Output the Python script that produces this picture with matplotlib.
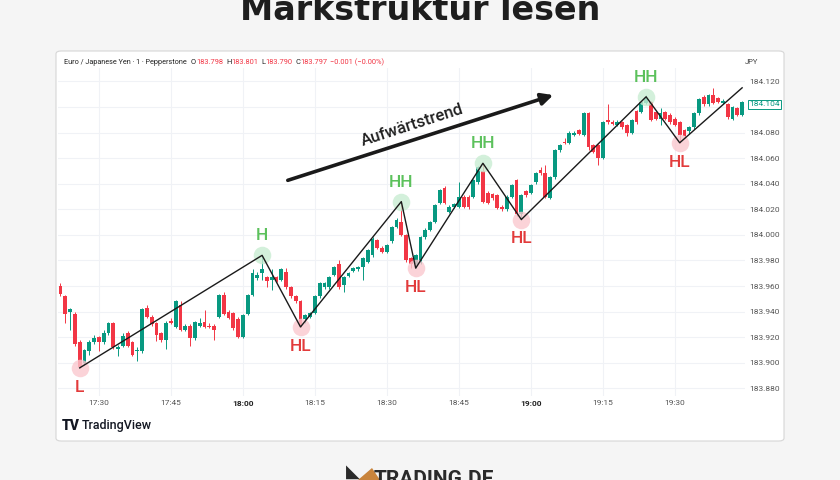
import numpy as np
import pandas as pd
import matplotlib.pyplot as plt
from matplotlib.patches import FancyBboxPatch, Polygon

plt.rcParams['font.family'] = ['Roboto', 'DejaVu Sans']

# 1-Minuten-Kerzen EUR/JPY, 17:22 - 19:44
start = '2024-01-01 17:22'
opens = [183.960, 183.952, 183.940, 183.938, 183.916, 183.900, 183.909, 183.916, 183.920, 183.916,
         183.923, 183.931, 183.911, 183.913, 183.923, 183.916, 183.909, 183.909, 183.943, 183.936,
         183.931, 183.923, 183.918, 183.933, 183.928, 183.945, 183.926, 183.929, 183.919, 183.929,
         183.932, 183.929, 183.929, 183.936, 183.953, 183.940, 183.939, 183.934, 183.920, 183.938,
         183.953, 183.966, 183.970, 183.967, 183.965, 183.967, 183.965, 183.971, 183.959, 183.952,
         183.948, 183.934, 183.936, 183.939, 183.952, 183.959, 183.959, 183.969, 183.977, 183.961,
         183.968, 183.972, 183.973, 183.975, 183.979, 183.984, 183.996, 183.990, 183.987, 183.995,
         184.006, 184.010, 184.000, 183.982, 183.977, 183.978, 183.998, 184.004, 184.010, 184.025,
         184.037, 184.018, 184.022, 184.022, 184.030, 184.030, 184.030, 184.041, 184.050, 184.033,
         184.032, 184.031, 184.022, 184.020, 184.030, 184.043, 184.016, 184.034, 184.033, 184.041,
         184.051, 184.048, 184.029, 184.045, 184.066, 184.073, 184.072, 184.078, 184.082, 184.078,
         184.095, 184.070, 184.070, 184.060, 184.090, 184.088, 184.086, 184.088, 184.086, 184.080,
         184.097, 184.096, 184.103, 184.104, 184.096, 184.091, 184.096, 184.094, 184.091, 184.088,
         184.082, 184.081, 184.084, 184.095, 184.108, 184.102, 184.109, 184.107, 184.103, 184.102,
         184.091, 184.099, 184.094]
highs = [183.962, 183.953, 183.943, 183.940, 183.918, 183.911, 183.918, 183.922, 183.921, 183.926,
         183.932, 183.932, 183.914, 183.923, 183.925, 183.917, 183.912, 183.943, 183.945, 183.937,
         183.932, 183.924, 183.933, 183.935, 183.949, 183.948, 183.930, 183.930, 183.933, 183.935,
         183.941, 183.931, 183.930, 183.954, 183.955, 183.941, 183.940, 183.936, 183.938, 183.954,
         183.973, 183.971, 183.984, 183.968, 183.973, 183.968, 183.974, 183.974, 183.960, 183.953,
         183.949, 183.938, 183.940, 183.953, 183.963, 183.963, 183.968, 183.976, 183.980, 183.968,
         183.971, 183.975, 183.976, 183.983, 183.989, 183.998, 183.997, 183.991, 183.993, 184.007,
         184.013, 184.026, 184.001, 183.983, 183.985, 183.999, 184.005, 184.011, 184.024, 184.036,
         184.038, 184.023, 184.025, 184.041, 184.031, 184.031, 184.044, 184.054, 184.056, 184.034,
         184.033, 184.032, 184.023, 184.031, 184.040, 184.044, 184.032, 184.035, 184.040, 184.049,
         184.053, 184.055, 184.046, 184.067, 184.071, 184.076, 184.081, 184.081, 184.083, 184.096,
         184.096, 184.071, 184.071, 184.089, 184.102, 184.090, 184.090, 184.089, 184.087, 184.091,
         184.098, 184.105, 184.109, 184.105, 184.097, 184.099, 184.097, 184.095, 184.092, 184.089,
         184.083, 184.085, 184.096, 184.107, 184.109, 184.110, 184.115, 184.108, 184.106, 184.103,
         184.101, 184.100, 184.105]
lows = [183.952, 183.931, 183.926, 183.913, 183.896, 183.898, 183.906, 183.915, 183.909, 183.915,
        183.922, 183.911, 183.905, 183.912, 183.912, 183.905, 183.901, 183.908, 183.935, 183.929,
        183.917, 183.916, 183.911, 183.930, 183.927, 183.925, 183.925, 183.913, 183.918, 183.928,
        183.927, 183.927, 183.918, 183.935, 183.937, 183.934, 183.926, 183.919, 183.919, 183.937,
        183.952, 183.965, 183.965, 183.959, 183.957, 183.963, 183.964, 183.958, 183.951, 183.947,
        183.928, 183.931, 183.935, 183.938, 183.951, 183.958, 183.958, 183.968, 183.958, 183.955,
        183.967, 183.971, 183.972, 183.965, 183.978, 183.983, 183.989, 183.986, 183.986, 183.994,
        184.005, 183.999, 183.979, 183.974, 183.974, 183.977, 183.997, 184.003, 184.009, 184.024,
        184.024, 184.017, 184.021, 184.021, 184.021, 184.020, 184.029, 184.040, 184.025, 184.024,
        184.027, 184.020, 184.019, 184.019, 184.029, 184.015, 184.012, 184.030, 184.032, 184.040,
        184.047, 184.029, 184.028, 184.044, 184.065, 184.071, 184.071, 184.077, 184.078, 184.077,
        184.066, 184.064, 184.055, 184.059, 184.087, 184.086, 184.085, 184.083, 184.077, 184.079,
        184.087, 184.095, 184.102, 184.089, 184.090, 184.086, 184.090, 184.087, 184.085, 184.072,
        184.076, 184.079, 184.083, 184.094, 184.101, 184.101, 184.102, 184.103, 184.102, 184.091,
        184.090, 184.093, 184.093]
closes = [183.954, 183.938, 183.942, 183.915, 183.897, 183.910, 183.916, 183.919, 183.916, 183.923,
          183.931, 183.912, 183.912, 183.921, 183.913, 183.906, 183.910, 183.942, 183.936, 183.930,
          183.922, 183.918, 183.931, 183.931, 183.948, 183.926, 183.929, 183.919, 183.932, 183.931,
          183.928, 183.928, 183.926, 183.953, 183.938, 183.935, 183.927, 183.920, 183.937, 183.953,
          183.970, 183.969, 183.973, 183.964, 183.967, 183.964, 183.973, 183.959, 183.952, 183.948,
          183.929, 183.937, 183.939, 183.952, 183.962, 183.962, 183.967, 183.975, 183.959, 183.967,
          183.970, 183.974, 183.975, 183.982, 183.988, 183.997, 183.990, 183.987, 183.992, 184.006,
          184.012, 184.000, 183.980, 183.977, 183.984, 183.998, 184.004, 184.010, 184.023, 184.035,
          184.025, 184.022, 184.024, 184.030, 184.022, 184.022, 184.043, 184.053, 184.026, 184.025,
          184.029, 184.021, 184.020, 184.030, 184.039, 184.016, 184.031, 184.031, 184.039, 184.048,
          184.048, 184.030, 184.045, 184.066, 184.070, 184.072, 184.080, 184.080, 184.079, 184.095,
          184.069, 184.065, 184.060, 184.088, 184.088, 184.087, 184.088, 184.084, 184.080, 184.090,
          184.088, 184.104, 184.107, 184.090, 184.091, 184.095, 184.091, 184.088, 184.086, 184.078,
          184.077, 184.084, 184.095, 184.106, 184.102, 184.109, 184.103, 184.104, 184.105, 184.092,
          184.100, 184.094, 184.104]

# Marktstruktur-Punkte (Kerzen-Index, Kurs, Label)
pivot_idx = [4, 42, 50, 71, 74, 88, 96, 122, 129]
pivot_px = [183.896, 183.984, 183.928, 184.026, 183.974, 184.056, 184.012, 184.108, 184.072]
pivot_lbl = ['L', 'H', 'HL', 'HH', 'HL', 'HH', 'HL', 'HH', 'HL']
line_end = (142, 184.115)

price_ticks = [183.880, 183.900, 183.920, 183.940, 183.960, 183.980, 184.000,
               184.020, 184.040, 184.060, 184.080, 184.100, 184.120]
time_ticks = ['17:30', '17:45', '18:00', '18:15', '18:30', '18:45', '19:00', '19:15', '19:30']

times = pd.date_range(start, periods=len(opens), freq='min')
o = np.array(opens); h = np.array(highs); l = np.array(lows); c = np.array(closes)
x = np.arange(len(o))

UP = '#089981'
DOWN = '#f23645'
W, H = 840, 480

fig = plt.figure(figsize=(8.4, 4.8), dpi=100, facecolor='#f5f5f5')

# weisses Panel (hinter der Achse)
panel = FancyBboxPatch((56 / W, 1 - 441 / H), 728 / W, 390 / H,
                       boxstyle='round,pad=0,rounding_size=0.006',
                       transform=fig.transFigure, facecolor='white',
                       edgecolor='#d6d6d6', linewidth=0.8, zorder=-5)
fig.patches.append(panel)

ax = fig.add_axes([58 / W, 84 / H, 687 / W, 328 / H])
ax.set_zorder(2)
ax.set_facecolor('none')
for s in ax.spines.values():
    s.set_visible(False)

ax.set_xlim(-0.52, 142.6)
ax.set_ylim(183.874, 184.1305)

# Gitter
tick_pos = []
for t in time_ticks:
    hh, mm = t.split(':')
    tick_pos.append(int(np.where((times.hour == int(hh)) & (times.minute == int(mm)))[0][0]))
for tp in tick_pos:
    ax.axvline(tp, color='#f0f2f6', lw=0.8, zorder=0)
for pt in price_ticks:
    ax.axhline(pt, color='#f0f2f6', lw=0.8, zorder=0)

# Kerzen
cols = np.where(c >= o, UP, DOWN)
ax.vlines(x, l, h, colors=cols, lw=0.7, zorder=2)
body = np.maximum(np.abs(c - o), 0.0009)
ax.bar(x, body, bottom=np.minimum(o, c), width=0.78, color=cols, zorder=2, linewidth=0)

# Zickzack
zx = pivot_idx + [line_end[0]]
zy = pivot_px + [line_end[1]]
ax.plot(zx, zy, color='#1a1a1a', lw=1.0, zorder=4)

for px_, py_, lb in zip(pivot_idx, pivot_px, pivot_lbl):
    is_high = lb in ('H', 'HH')
    fc = '#c9edd2' if is_high else '#fac8cf'
    tc = '#5cc15c' if is_high else '#e23b3b'
    ax.scatter(px_, py_, s=160, color=fc, alpha=0.8, zorder=3, linewidths=0)
    ax.annotate(lb, (px_, py_), xytext=(0, 14 if is_high else -14),
                textcoords='offset points', ha='center', va='center',
                fontsize=12.5, color=tc, fontweight='medium', zorder=5)

# Trendpfeil
ax.annotate('', xy=(103.2, 184.110), xytext=(46.8, 184.042),
            arrowprops=dict(arrowstyle='-|>,head_length=0.7,head_width=0.35',
                            color='#1a1a1a', lw=2.6), zorder=5)
ax.text(73.3, 184.086, 'Aufwärtstrend', rotation=18, rotation_mode='anchor',
        ha='center', va='center', fontsize=12, fontweight='medium', color='#1f1f1f')

# Achsen
ax.set_xticks(tick_pos)
ax.set_xticklabels(time_ticks)
for lab in ax.get_xticklabels():
    lab.set_fontsize(6)
    lab.set_color('#555555')
    if lab.get_text().endswith(':00'):
        lab.set_fontweight('bold')
        lab.set_color('#222222')
ax.tick_params(axis='x', length=0, pad=3)
ax.yaxis.tick_right()
ax.set_yticks(price_ticks)
ax.set_yticklabels(['%.3f' % p for p in price_ticks])
ax.tick_params(axis='y', length=0, pad=3, labelsize=6, labelcolor='#555555')

ax.annotate('%.3f' % closes[-1], xy=(1.0, 184.102), xycoords=('axes fraction', 'data'),
            xytext=(3, 0), textcoords='offset points', ha='left', va='center',
            fontsize=6, color=UP,
            bbox=dict(boxstyle='square,pad=0.15', fc='white', ec=UP, lw=0.7))

fig.text(745 / W, 1 - 62 / H, 'JPY', fontsize=5.5, color='#444444', va='center')

# Kopfzeile
hy = 1 - 62 / H
fig.text(64 / W, hy, 'Euro / Japanese Yen · 1 · Pepperstone', fontsize=5.2, color='#222222', va='center')
head = [(191, 'O', '#222222'), (196, '183.798', DOWN), (226, 'H', '#222222'), (231, '183.801', DOWN),
        (261, 'L', '#222222'), (265, '183.790', DOWN), (295, 'C', '#222222'), (300, '183.797', DOWN),
        (330, '−0.001 (−0.00%)', DOWN)]
for hx, ht, hc in head:
    fig.text(hx / W, hy, ht, fontsize=5.4, color=hc, va='center')

# TradingView Logo
fig.text(62 / W, 1 - 426 / H, 'TV', fontsize=10, fontweight='black', color='#131722', va='center')
fig.text(82 / W, 1 - 426 / H, 'TradingView', fontsize=9, fontweight='medium', color='#131722', va='center')

# Titel
fig.text(0.5, 1 - 11 / H, 'Markstruktur lesen', ha='center', va='center',
         fontsize=24, fontweight='bold', color='#1e1e1e', family=['DejaVu Sans'])

# Fusszeile Logo
fig.patches.append(Polygon([(358 / W, 1 - 480 / H), (372 / W, 1 - 468 / H), (380 / W, 1 - 480 / H)],
                           closed=True, transform=fig.transFigure, facecolor='#c9843c'))
fig.text(346 / W, 1 - 472 / H, '◣', fontsize=13, color='#2a2a2a', va='center')
fig.text(374 / W, 1 - 470 / H, 'TRADING.DE', fontsize=15, fontweight='bold', color='#2a2a2a',
         va='top', ha='left')

fig.savefig('out.png', dpi=100, facecolor=fig.get_facecolor())
